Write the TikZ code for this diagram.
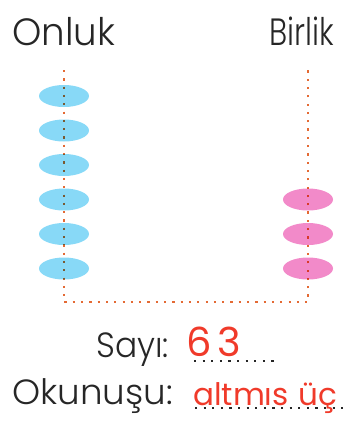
\documentclass[tikz,border=0pt]{standalone}
\usepackage{fontspec}
\setmainfont{Poppins Light}
\newfontfamily\handfont{Poppins}
\usetikzlibrary{shapes.geometric}
\definecolor{beadblue}{HTML}{88D9F7}
\definecolor{beadpink}{HTML}{F28AC9}
\definecolor{dotorange}{HTML}{E46A34}
\definecolor{inkred}{HTML}{F03A2A}
\begin{document}
\begin{tikzpicture}[x=1pt,y=-1pt,
  lbl/.style={inner sep=0pt,text=black!85,font=\fontsize{38}{38}\selectfont},
  rowlbl/.style={inner sep=0pt,text=black!85,font=\fontsize{35}{35}\selectfont},
  hand/.style={inner sep=0pt,text=inkred,font=\handfont\fontsize{#1}{#1}\selectfont},
  bead/.style={ellipse,fill=#1,draw=none,minimum width=50pt,minimum height=22pt,inner sep=0pt},
  dotline/.style={draw=dotorange,line width=2.2pt,dash pattern=on 2.2pt off 6.1pt,blend mode=multiply},
  dotblack/.style={draw=black!85,line width=2.2pt,dash pattern=on 2.2pt off 6.4pt}]
\useasboundingbox (0,0) rectangle (350,421);
\node[lbl,anchor=base west] (onluk) at (12,45) {\scalebox{0.98}[1]{Onluk}};
\node[lbl,anchor=base east] (birlik) at (334,45) {\scalebox{0.8}[1]{Birlik}};
\foreach \i/\y in {1/96,2/130.5,3/165,4/199.5,5/234,6/268.5}
  \node[bead=beadblue] (t\i) at (64,\y) {};
\foreach \i/\y in {1/199.5,2/234,3/268.5}
  \node[bead=beadpink] (u\i) at (308,\y) {};
\coordinate (lt) at (64,70);
\coordinate (lb) at (64,302);
\coordinate (rb) at (308,302);
\coordinate (rt) at (308,70);
\draw[dotline] (lt) -- (lb) -- (rb) -- (rt);
\node[rowlbl,anchor=base west] (sayi) at (96,357) {\scalebox{0.94}[1]{Sayı:}};
\node[rowlbl,anchor=base west] (okunusu) at (12,404) {\scalebox{1.02}[1]{Okunuşu:}};
\coordinate (s1) at (194,361);
\coordinate (s2) at (276,361);
\coordinate (o1) at (195,408);
\coordinate (o2) at (350,408);
\draw[dotblack] (s1) -- (s2);
\draw[dotblack] (o1) -- (o2);
\node[hand=40,anchor=base west] (num) at (186,356) {6\kern6pt3};
\node[hand=31,anchor=base west] (word) at (193,405) {altmıs\kern10pt üç};
\end{tikzpicture}
\end{document}
